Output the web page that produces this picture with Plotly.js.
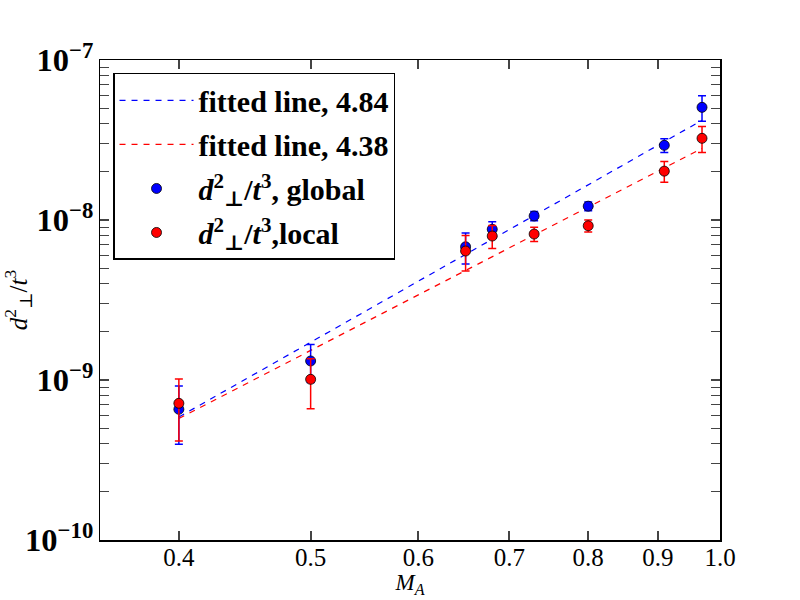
<!DOCTYPE html>
<html>
<head>
<meta charset="utf-8">
<script src="https://cdn.plot.ly/plotly-3.0.1.min.js"></script>
<style>
  body { margin: 0; background: #fff; }
  #plot { width: 800px; height: 600px; }
</style>
</head>
<body>
<div id="plot"></div>
<script>
// Alfven Mach number of each run
var machA = [0.4, 0.5, 0.65, 0.68, 0.73, 0.8, 0.91, 0.97]

// d_perp^2 / t^3, global and local estimates, with their error bars
var globalVals = [6.56e-10, 1.315e-9, 6.8e-9, 8.75e-9, 1.06e-8, 1.22e-8, 2.93e-8, 5.06e-8]
var globalErr = [2.6e-10, 3.5e-10, 1.5e-9, 1.0e-9, 7e-10, 7.8e-10, 2.9e-9, 9.2e-9]
var localVals = [7.15e-10, 1.01e-9, 6.4e-9, 7.94e-9, 8.17e-9, 9.2e-9, 2.02e-8, 3.24e-8]
var localErr = [3.0e-10, 3.5e-10, 1.6e-9, 1.3e-9, 8.4e-10, 8e-10, 3.0e-9, 6e-9]

// end points of the two fitted power laws
var fitX = [0.4, 0.97]
var fitGlobal = [5.87e-10, 4.2e-8]
var fitLocal = [5.75e-10, 2.8e-8]

var xTicks = [0.4, 0.5, 0.6, 0.7, 0.8, 0.9, 1.0]
var xTickText = ['0.4', '0.5', '0.6', '0.7', '0.8', '0.9', '1.0']

var serif = 'Liberation Serif, DejaVu Serif, serif'
var dLabel = '<i>d</i><sup>2</sup><sub>⊥</sub>/<i>t</i><sup>3</sup>'

var traces = [
    {
        x: fitX, y: fitGlobal, mode: 'lines', name: 'fitted line, 4.84',
        legendgroup: 'a',
        line: { color: '#0000ff', width: 1.2, dash: '6px,6px' }
    },
    {
        x: fitX, y: fitLocal, mode: 'lines', name: 'fitted line, 4.38',
        legendgroup: 'b',
        line: { color: '#ff0000', width: 1.2, dash: '6px,6px' }
    },
    {
        x: machA, y: globalVals, mode: 'markers',
        name: dLabel + ', global',
        legendgroup: 'c',
        marker: { color: '#0000ff', size: 10, line: { color: '#000', width: 0.8 } },
        error_y: { type: 'data', array: globalErr, color: '#0000ff', thickness: 1.5, width: 4 }
    },
    {
        x: machA, y: localVals, mode: 'markers',
        name: dLabel + ',local',
        legendgroup: 'd',
        marker: { color: '#ff0000', size: 10, line: { color: '#000', width: 0.8 } },
        error_y: { type: 'data', array: localErr, color: '#ff0000', thickness: 1.5, width: 4 }
    }
]

var layout = {
    width: 800,
    height: 600,
    margin: { l: 100, r: 80, t: 60, b: 60 },
    paper_bgcolor: '#fff',
    plot_bgcolor: '#fff',
    font: { family: serif, color: '#000' },
    showlegend: true,
    legend: {
        x: 0.021, y: 0.973, xanchor: 'left', yanchor: 'top',
        bordercolor: '#000', borderwidth: 1.5, bgcolor: '#fff',
        font: { family: serif, size: 30, weight: 'bold' },
        itemwidth: 74,
        traceorder: 'grouped', tracegroupgap: 2
    },
    xaxis: {
        type: 'log',
        range: [Math.log10(0.35), 0],
        tickvals: xTicks,
        ticktext: xTickText,
        ticks: 'inside', ticklen: 9, tickwidth: 2,
        ticklabelstandoff: -6,
        showline: true, linecolor: '#000', linewidth: 1.5, mirror: 'ticks',
        showgrid: false, zeroline: false,
        tickfont: { family: serif, size: 25 },
        title: { text: '<i>M<sub>A</sub></i>', font: { family: serif, size: 23 }, standoff: 4 }
    },
    yaxis: {
        type: 'log',
        range: [-10, -7],
        dtick: 1,
        exponentformat: 'power',
        ticks: 'inside', ticklen: 9, tickwidth: 2,
        minor: { ticks: 'inside', ticklen: 9, tickwidth: 1.2, showgrid: false },
        showline: true, linecolor: '#000', linewidth: 1.5, mirror: 'ticks',
        showgrid: false, zeroline: false,
        tickfont: { family: serif, size: 26, weight: 'bold' },
        title: { text: dLabel, font: { family: serif, size: 25 }, standoff: 0 }
    }
}

Plotly.newPlot('plot', traces, layout, { displayModeBar: false, staticPlot: true })
</script>
</body>
</html>
